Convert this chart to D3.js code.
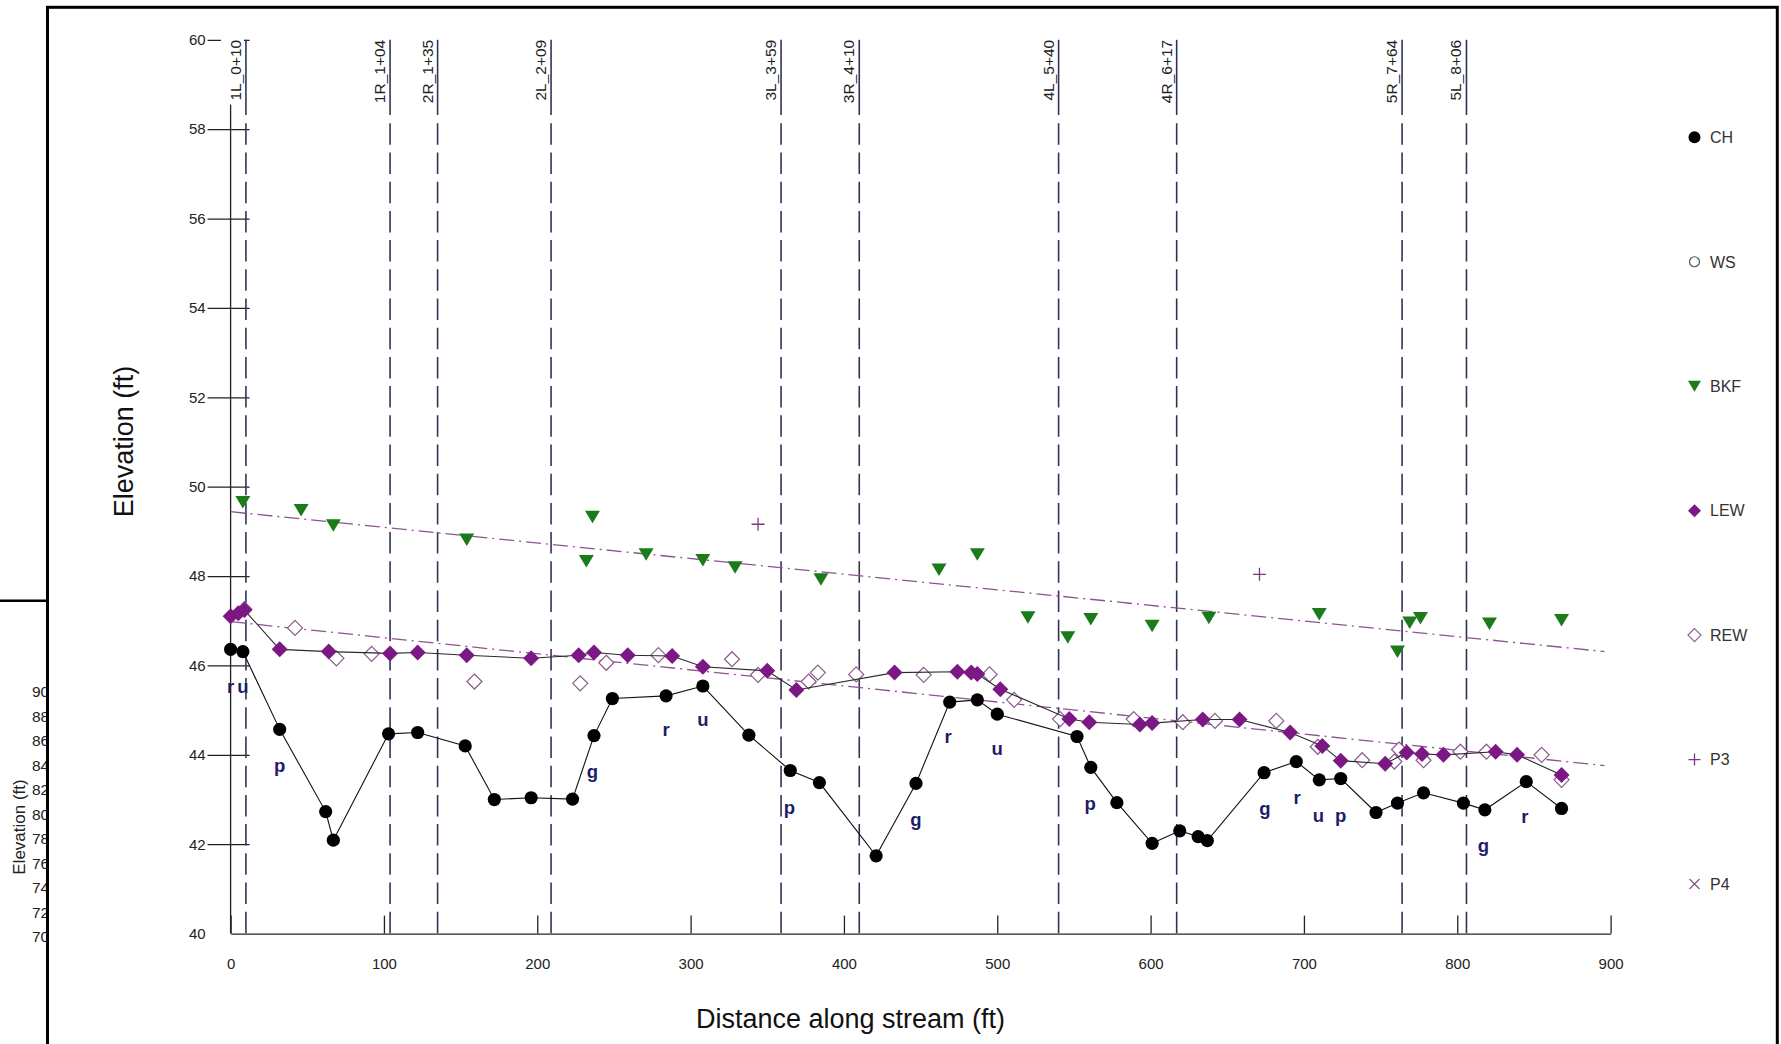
<!DOCTYPE html>
<html>
<head>
<meta charset="utf-8">
<script src="https://cdn.jsdelivr.net/npm/d3@7"></script>
<style>
  html, body { margin: 0; padding: 0; background: #ffffff; }
  svg { display: block; }
  text { font-family: "Liberation Sans", Arial, sans-serif; }
</style>
</head>
<body>
<svg id="chart" width="1781" height="1044"></svg>
<script>
// ---- Longitudinal profile data (station in ft, elevation in ft) ----

// Channel thalweg (CH)
const chX = [0, 8, 32, 62, 67, 103, 122, 153, 172, 196, 223, 237, 249, 284, 308, 338, 365, 384, 421, 447, 469, 487, 500, 552, 561, 578, 601, 619, 631, 637, 674, 695, 710, 724, 747, 761, 778, 804, 818, 845, 868];
const chY = [46.36, 46.31, 44.57, 42.73, 42.09, 44.47, 44.50, 44.20, 43.00, 43.04, 43.01, 44.43, 45.26, 45.32, 45.54, 44.44, 43.65, 43.38, 41.74, 43.36, 45.18, 45.23, 44.91, 44.41, 43.72, 42.93, 42.02, 42.30, 42.17, 42.08, 43.60, 43.85, 43.44, 43.47, 42.71, 42.92, 43.15, 42.92, 42.77, 43.40, 42.80];

// Left edge of water (LEW)
const lewX = [0, 5, 9, 32, 64, 104, 122, 154, 196, 227, 237, 259, 288, 308, 350, 369, 433, 474, 483, 487, 502, 547, 560, 593, 601, 634, 658, 691, 712, 724, 753, 767, 777, 791, 825, 839, 868];
const lewY = [47.10, 47.17, 47.24, 46.36, 46.31, 46.27, 46.29, 46.23, 46.16, 46.23, 46.29, 46.23, 46.21, 45.97, 45.88, 45.45, 45.84, 45.86, 45.84, 45.81, 45.47, 44.80, 44.73, 44.68, 44.71, 44.79, 44.79, 44.50, 44.20, 43.87, 43.80, 44.05, 44.02, 44.00, 44.07, 44.00, 43.55];

// Right edge of water (REW)
const rewX = [9, 42, 69, 92, 159, 228, 245, 279, 327, 344, 377, 383, 408, 452, 495, 511, 541, 589, 621, 642, 682, 709, 738, 759, 762, 778, 802, 819, 855, 868];
const rewY = [47.26, 46.84, 46.16, 46.26, 45.64, 45.60, 46.06, 46.23, 46.14, 45.79, 45.64, 45.84, 45.80, 45.79, 45.80, 45.23, 44.80, 44.80, 44.73, 44.76, 44.76, 44.18, 43.88, 43.85, 44.12, 43.88, 44.07, 44.07, 44.00, 43.44];

// Bankfull (BKF)
const bkfX = [8, 46, 67, 154, 232, 236, 271, 308, 329, 385, 462, 487, 520, 546, 561, 601, 638, 710, 761, 769, 776, 821, 868];
const bkfY = [49.66, 49.48, 49.14, 48.82, 48.34, 49.33, 48.49, 48.36, 48.20, 47.93, 48.15, 48.49, 47.08, 46.63, 47.04, 46.89, 47.07, 47.15, 46.31, 46.96, 47.06, 46.94, 47.02];

// P3 points
const p3X = [344, 671];
const p3Y = [49.16, 48.04];

// Fitted slope lines (start / end)
const trendX = [0, 896];
const bkfTrendY = [49.44, 46.31];
const waterTrendY = [46.98, 43.76];

// Bed feature codes along the thalweg
const featText = ["r", "u", "p", "g", "r", "u", "p", "g", "r", "u", "p", "g", "r", "u", "p", "g", "r"];
const featX = [0, 8, 32, 236, 284, 308, 364.5, 447, 468, 500, 560.5, 674.5, 695.5, 709.5, 724, 817, 844];
const featY = [45.51, 45.51, 43.73, 43.60, 44.54, 44.78, 42.80, 42.53, 44.39, 44.12, 42.88, 42.77, 43.03, 42.62, 42.63, 41.96, 42.60];

// Cross-section stations
const stationX = [10, 104, 135, 209, 359, 410, 540, 617, 764, 806];
const stationLabels = ["1L_0+10", "1R_1+04", "2R_1+35", "2L_2+09", "3L_3+59", "3R_4+10", "4L_5+40", "4R_6+17", "5R_7+64", "5L_8+06"];

// Axis ticks
const xTicks = [0, 100, 200, 300, 400, 500, 600, 700, 800, 900];
const yTicks = [40, 42, 44, 46, 48, 50, 52, 54, 56, 58, 60];

// Legend
const legendNames = ["CH", "WS", "BKF", "LEW", "REW", "P3", "P4"];

// Axis of the profile window lying underneath
const underTicks = [90, 88, 86, 84, 82, 80, 78, 76, 74, 72, 70];

// ---- Drawing ----
const svg = d3.select("#chart");
const FONT = '"Liberation Sans", Arial, sans-serif';

const x = d3.scaleLinear().domain([0, 900]).range([230.6, 1610.6]);
const y = d3.scaleLinear().domain([40, 60]).range([933.6, 39.8]);

const PURPLE = "#7b1884";
const REW_STROKE = "#8a5a8c";
const GREEN = "#1b7b1b";
const NAVY = "#1d1d6a";
const DASH = "#33335a";
const TREND = "#8c5490";

// Underlying window (partly hidden, at the far left)
const under = svg.append("g");
const yu = d3.scaleLinear().domain([70, 90]).range([936.7, 691.7]);
under.append("defs").append("clipPath").attr("id", "underClip")
  .append("rect").attr("x", 0).attr("y", 0).attr("width", 47).attr("height", 1044);
const ug = under.append("g").attr("clip-path", "url(#underClip)");
ug.selectAll("text.ut").data(underTicks).join("text")
  .attr("x", 32).attr("y", d => yu(d))
  .attr("dy", "0.35em")
  .attr("font-size", 15.5).attr("fill", "#222")
  .text(d => d);
ug.append("text")
  .attr("transform", "translate(25,827) rotate(-90)")
  .attr("text-anchor", "middle")
  .attr("font-size", 17).attr("fill", "#222")
  .text("Elevation (ft)");
under.append("line").attr("x1", 0).attr("x2", 47).attr("y1", 600.7).attr("y2", 600.7)
  .attr("stroke", "#000").attr("stroke-width", 2.6);

// Front window frame (white face drawn first, border on top)
svg.append("rect").attr("x", 47.5).attr("y", 7.3).attr("width", 1729.8).attr("height", 1100)
  .attr("fill", "#ffffff");

// Y axis
const yAxis = d3.axisLeft(y).tickValues(yTicks).tickSizeInner(23).tickSizeOuter(0).tickPadding(2)
  .tickFormat(d3.format("d"));
const gy = svg.append("g").attr("transform", `translate(${x(0)},0)`).call(yAxis);
gy.select(".domain").remove();
gy.selectAll(".tick line").attr("x1", 19).attr("stroke", "#222").attr("stroke-width", 1.3)
  .attr("display", d => d === 40 ? "none" : null);
gy.selectAll(".tick text").attr("font-size", 15).attr("font-family", FONT).attr("fill", "#222");
svg.append("line").attr("x1", x(0)).attr("x2", x(0)).attr("y1", y(60)).attr("y2", y(40))
  .attr("stroke", "#222").attr("stroke-width", 1.3);

// X axis
const xAxis = d3.axisBottom(x).tickValues(xTicks).tickSizeInner(-18).tickSizeOuter(0).tickPadding(24.5)
  .tickFormat(d3.format("d"));
const gx = svg.append("g").attr("transform", `translate(0,${y(40)})`).call(xAxis);
gx.select(".domain").attr("stroke", "#222").attr("stroke-width", 1.3);
gx.selectAll(".tick line").attr("stroke", "#222").attr("stroke-width", 1.3);
gx.selectAll(".tick text").attr("font-size", 15).attr("font-family", FONT).attr("fill", "#222");

// Axis titles
svg.append("text").attr("x", 850.5).attr("y", 1028.3)
  .attr("text-anchor", "middle").attr("font-size", 27).attr("fill", "#111")
  .text("Distance along stream (ft)");
svg.append("text").attr("transform", "translate(133.3,441.5) rotate(-90)")
  .attr("text-anchor", "middle").attr("font-size", 27).attr("fill", "#111")
  .text("Elevation (ft)");

// Cross-section station lines with rotated labels on white plates
const st = svg.append("g").selectAll("g").data(stationX).join("g");
st.each(function (d, i) {
  const g = d3.select(this);
  const lx = x(d);
  const t = g.append("text")
    .attr("transform", `translate(${lx - 5},${y(60)}) rotate(-90)`)
    .attr("text-anchor", "end")
    .attr("font-size", 15.5).attr("fill", "#222")
    .text(stationLabels[i]);
  const len = t.node().getComputedTextLength();
  g.insert("rect", "text")
    .attr("x", lx - 25).attr("y", y(60) - 2)
    .attr("width", 23).attr("height", len + 6)
    .attr("fill", "#ffffff");
  g.append("line").attr("x1", lx).attr("x2", lx).attr("y1", y(60)).attr("y2", 115)
    .attr("stroke", DASH).attr("stroke-width", 1.6);
  g.append("line").attr("x1", lx).attr("x2", lx).attr("y1", 123.3).attr("y2", y(40))
    .attr("stroke", DASH).attr("stroke-width", 1.6).attr("stroke-dasharray", "21.5,7.7");
});

// Fitted slope lines
const trendLine = d3.line().x(d => x(d[0])).y(d => y(d[1]));
[bkfTrendY, waterTrendY].forEach(ty => {
  svg.append("path")
    .datum(trendX.map((v, i) => [v, ty[i]]))
    .attr("d", trendLine)
    .attr("fill", "none").attr("stroke", TREND).attr("stroke-width", 1.3)
    .attr("stroke-dasharray", "15,5,2,5");
});

const diamond = r => `M0,${-r}L${r},0L0,${r}L${-r},0Z`;
const downTri = "M-7.5,-6L7.5,-6L0,6.5Z";

// REW open diamonds
svg.append("g").selectAll("path").data(rewX.map((v, i) => [v, rewY[i]])).join("path")
  .attr("transform", d => `translate(${x(d[0])},${y(d[1])})`)
  .attr("d", diamond(7.5))
  .attr("fill", "#ffffff").attr("stroke", REW_STROKE).attr("stroke-width", 1.2);

// LEW line and filled diamonds
const lewPts = lewX.map((v, i) => [v, lewY[i]]);
svg.append("path").datum(lewPts).attr("d", trendLine)
  .attr("fill", "none").attr("stroke", "#2a2a2a").attr("stroke-width", 1.1);
svg.append("g").selectAll("path").data(lewPts).join("path")
  .attr("transform", d => `translate(${x(d[0])},${y(d[1])})`)
  .attr("d", diamond(8))
  .attr("fill", PURPLE);

// BKF triangles
svg.append("g").selectAll("path").data(bkfX.map((v, i) => [v, bkfY[i]])).join("path")
  .attr("transform", d => `translate(${x(d[0])},${y(d[1])})`)
  .attr("d", downTri)
  .attr("fill", GREEN);

// CH line and points
const chPts = chX.map((v, i) => [v, chY[i]]);
svg.append("path").datum(chPts).attr("d", trendLine)
  .attr("fill", "none").attr("stroke", "#111").attr("stroke-width", 1.1);
svg.append("g").selectAll("circle").data(chPts).join("circle")
  .attr("cx", d => x(d[0])).attr("cy", d => y(d[1])).attr("r", 6.6)
  .attr("fill", "#000");

// P3 crosses
svg.append("g").selectAll("path").data(p3X.map((v, i) => [v, p3Y[i]])).join("path")
  .attr("transform", d => `translate(${x(d[0])},${y(d[1])})`)
  .attr("d", "M-6.5,0H6.5M0,-6.5V6.5")
  .attr("stroke", "#7a3a82").attr("stroke-width", 1.3).attr("fill", "none");

// Bed feature codes
svg.append("g").selectAll("text").data(featText).join("text")
  .attr("x", (d, i) => x(featX[i])).attr("y", (d, i) => y(featY[i]))
  .attr("dy", "0.3em")
  .attr("text-anchor", "middle")
  .attr("font-size", 18.5).attr("font-weight", "bold").attr("fill", NAVY)
  .text(d => d);

// Legend
const legY = d3.scalePoint().domain(legendNames).range([137.3, 884]);
const lg = svg.append("g").selectAll("g").data(legendNames).join("g")
  .attr("transform", d => `translate(1694.5,${legY(d)})`);
lg.append("text").attr("x", 15.5).attr("dy", "0.36em")
  .attr("font-size", 16).attr("fill", "#333").text(d => d);
lg.each(function (d) {
  const g = d3.select(this);
  if (d === "CH") g.append("circle").attr("r", 6).attr("fill", "#000");
  if (d === "WS") g.append("circle").attr("r", 5).attr("fill", "#fff").attr("stroke", "#555").attr("stroke-width", 1.2);
  if (d === "BKF") g.append("path").attr("d", "M-6.5,-5.5L6.5,-5.5L0,5.5Z").attr("fill", GREEN);
  if (d === "LEW") g.append("path").attr("d", diamond(6.5)).attr("fill", PURPLE);
  if (d === "REW") g.append("path").attr("d", diamond(6.5)).attr("fill", "#fff").attr("stroke", REW_STROKE).attr("stroke-width", 1.1);
  if (d === "P3") g.append("path").attr("d", "M-6,0H6M0,-6V6").attr("stroke", "#7a3a82").attr("stroke-width", 1.3);
  if (d === "P4") g.append("path").attr("d", "M-5,-5L5,5M-5,5L5,-5").attr("stroke", "#7a5a82").attr("stroke-width", 1.3);
});

// Window border on top of everything
svg.append("rect").attr("x", 47.5).attr("y", 7.3).attr("width", 1729.8).attr("height", 1100)
  .attr("fill", "none").attr("stroke", "#000").attr("stroke-width", 3);
</script>
</body>
</html>
